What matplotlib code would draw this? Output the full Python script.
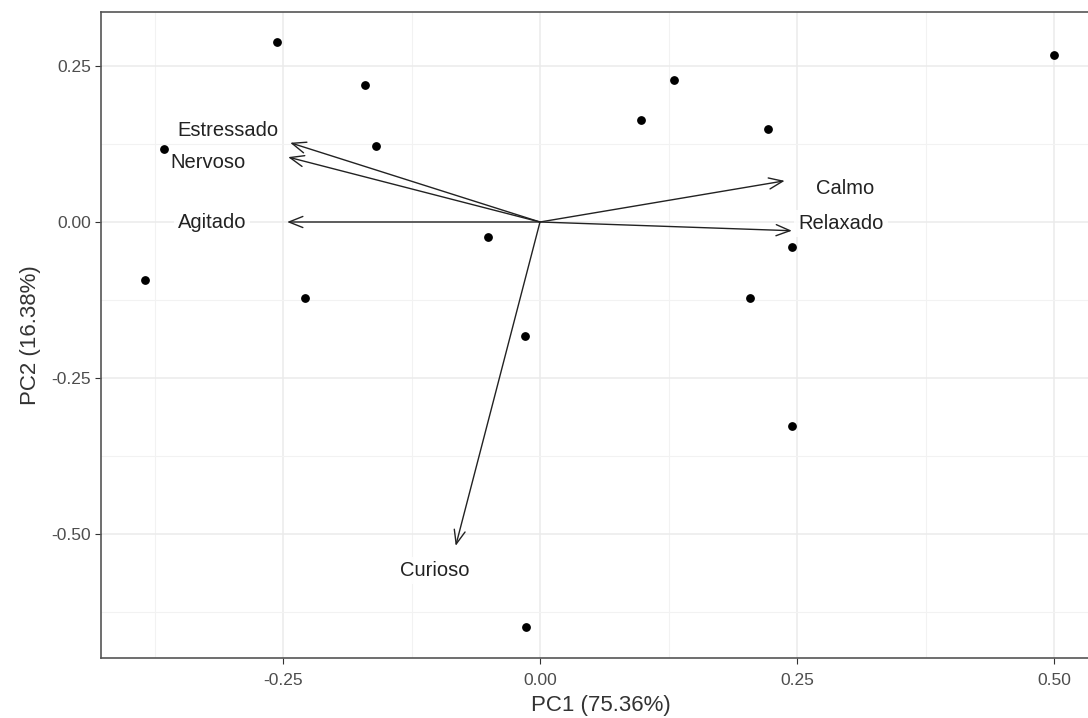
import numpy as np
import matplotlib
matplotlib.use("Agg")
import matplotlib.pyplot as plt
from matplotlib.ticker import MultipleLocator

plt.rcParams['font.family'] = ['Liberation Sans', 'DejaVu Sans']

# scores (individuals)
pc1 = [-0.256, -0.170, -0.160, -0.366, -0.384, -0.229, -0.051, -0.015,
       -0.014, 0.098, 0.130, 0.222, 0.245, 0.204, 0.245, 0.500]
pc2 = [0.288, 0.220, 0.122, 0.117, -0.093, -0.122, -0.024, -0.183,
       -0.649, 0.163, 0.228, 0.149, -0.040, -0.122, -0.327, 0.268]

# loadings (variables)
var_names = ["Estressado", "Nervoso", "Agitado", "Calmo", "Relaxado", "Curioso"]
load1 = [-0.243, -0.245, -0.246, 0.238, 0.245, -0.082]
load2 = [0.127, 0.104, 0.0, 0.066, -0.014, -0.519]
lab1 = [-0.304, -0.323, -0.319, 0.297, 0.293, -0.102]
lab2 = [0.147, 0.096, 0.0, 0.053, -0.002, -0.558]

fig = plt.figure(figsize=(10.88, 7.18), dpi=100)
# panel runs past the right edge of the picture, like the cropped original
ax = fig.add_axes([101/1088, 60/718, 1000/1088, 646/718])

x0 = (101 - 540) / 1028
x1 = (1101 - 540) / 1028
ax.set_xlim(x0, x1)
ax.set_ylim((222 - 658) / 624, (222 - 12) / 624)

ax.xaxis.set_major_locator(MultipleLocator(0.25))
ax.yaxis.set_major_locator(MultipleLocator(0.25))
ax.xaxis.set_minor_locator(MultipleLocator(0.125))
ax.yaxis.set_minor_locator(MultipleLocator(0.125))
ax.xaxis.set_major_formatter(lambda v, p: f"{v:.2f}")
ax.yaxis.set_major_formatter(lambda v, p: f"{v:.2f}")
ax.grid(True, which='major', color='#EBEBEB', lw=1.1)
ax.grid(True, which='minor', color='#F2F2F2', lw=0.8)
ax.set_axisbelow(True)
ax.tick_params(which='minor', length=0)
ax.tick_params(which='major', length=4, color='#333333', labelcolor='#4D4D4D',
               labelsize=12.5)
ax.tick_params(axis='x', pad=7)
ax.tick_params(axis='y', pad=3)

for s in ax.spines.values():
    s.set_color('#555555')
    s.set_linewidth(1.2)

ax.scatter(pc1, pc2, s=28, color='black', zorder=3)

for n, a, b, lx, ly in zip(var_names, load1, load2, lab1, lab2):
    ax.annotate("", xy=(a, b), xytext=(0, 0),
                arrowprops=dict(arrowstyle='->,head_length=1.0,head_width=0.4',
                                color='#222222', lw=1.0, shrinkA=0, shrinkB=0),
                zorder=4)
    ax.text(lx, ly, n, ha='center', va='center', fontsize=14.5, color='#222222',
            bbox=dict(boxstyle='square,pad=0.2', fc='white', ec='none', alpha=0.85),
            zorder=2)

ax.set_xlabel("PC1 (75.36%)", fontsize=16, color='#333333', labelpad=5)
ax.set_ylabel("PC2 (16.38%)", fontsize=16, color='#333333', labelpad=8)

fig.savefig("out.png", dpi=100)
